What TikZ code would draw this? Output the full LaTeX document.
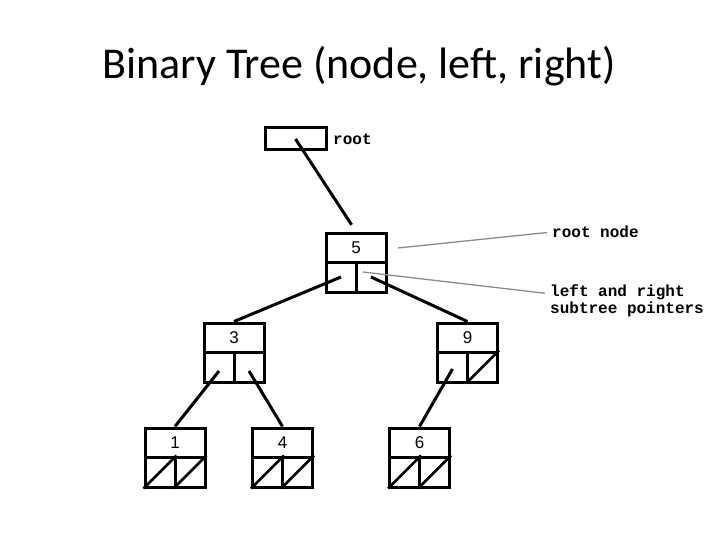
\documentclass[tikz,border=0pt]{standalone}
\usepackage{fontspec}
\setmainfont{Carlito}
\newfontfamily\monofont{Liberation Mono}
\newfontfamily\digitfont{Liberation Sans}
\definecolor{pointergray}{RGB}{140,140,140}
\newcommand{\treebox}[4]{%
  \node[topcell] (#1t) at (#2, #3+14.5) {#4};
  \node[halfcell] (#1l) at (#2-15, #3+44) {};
  \node[halfcell] (#1r) at (#2+15, #3+44) {};
}
\begin{document}
\begin{tikzpicture}[x=1pt,y=-1pt,
  topcell/.style={draw, line width=3pt, minimum width=60pt, minimum height=29pt, inner sep=0pt, font=\digitfont\fontsize{17}{19}\selectfont},
  halfcell/.style={draw, line width=3pt, minimum width=30pt, minimum height=30pt, inner sep=0pt},
  rootbox/.style={draw, line width=3pt, minimum width=61pt, minimum height=22pt, inner sep=0pt},
  link/.style={line width=3pt},
  nullptr/.style={line width=2.6pt},
  pointer/.style={line width=1.3pt, pointergray},
  label/.style={font=\monofont\bfseries\fontsize{16}{17}\selectfont, inner sep=0pt, anchor=west, align=left},
  title/.style={font=\fontsize{44}{48}\selectfont, inner sep=0pt, anchor=base}]
\useasboundingbox (0,0) rectangle (720,540);
\node[title] (title) at (359,79) {Binary Tree (node, left, right)};
% root pointer
\node[rootbox] (root) at (295.5,139) {};
\node[label] (rootlbl) at (333,139) {root};
% tree nodes
\treebox{n5}{356}{233}{5}
\treebox{n3}{234}{323}{3}
\treebox{n9}{467.5}{323}{9}
\treebox{n1}{175}{428}{1}
\treebox{n4}{282.5}{428}{4}
\treebox{n6}{419.5}{428}{6}
% null pointers
\draw[nullptr] (n9r.south west) -- (n9r.north east);
\foreach \n in {n1,n4,n6}{
  \draw[nullptr] (\n l.south west) -- (\n l.north east);
  \draw[nullptr] (\n r.south west) -- (\n r.north east);
}
% links
\draw[link, shorten >=8pt] (root.center) -- (n5t.north);
\draw[link] (n5l.center) -- (n3t.north);
\draw[link] (n5r.center) -- (n9t.north);
\draw[link] ([yshift=-4pt]n3l.center) -- (n1t.north);
\draw[link] ([yshift=-4pt]n3r.center) -- (n4t.north);
\draw[link] ([yshift=-2pt]n9l.center) -- (n6t.north);
% annotations
\node[label] (nodelbl) at (552,232) {root node};
\node[label, anchor=north west] (ptrlbl) at (550,284) {left and right\\subtree pointers};
\coordinate (p1) at (398,248);
\coordinate (p2) at (363,272);
\draw[pointer, shorten >=5pt] (p1) -- (nodelbl.west);
\draw[pointer] (p2) -- ([xshift=-5pt,yshift=7pt]ptrlbl.west);
\end{tikzpicture}
\end{document}
